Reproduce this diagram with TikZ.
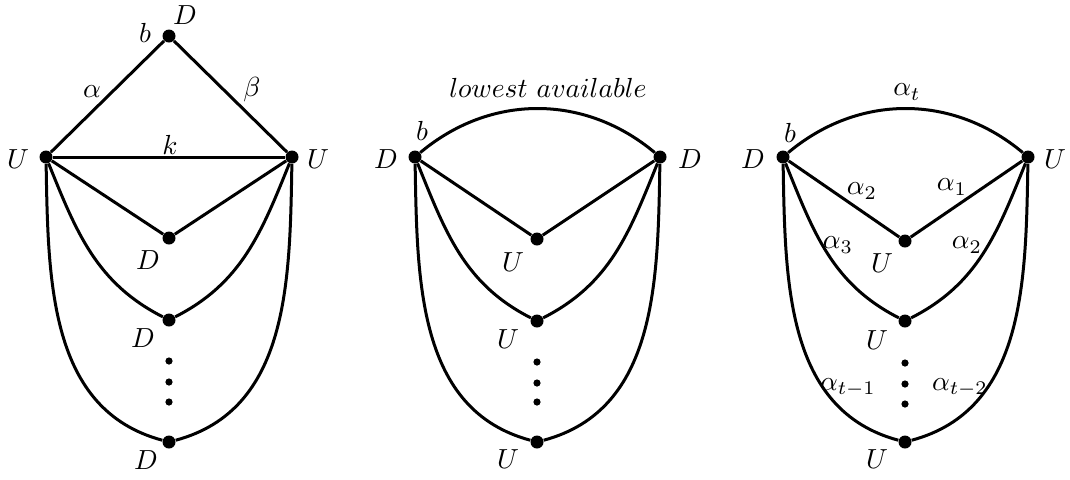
\documentclass[tikz,border=0pt]{standalone}
\begin{document}
\begin{tikzpicture}[x=0.5pt,y=-0.5pt,
  vtx/.style={circle,fill=black,inner sep=0pt,minimum size=6.5pt},
  sdot/.style={circle,fill=black,inner sep=0pt,minimum size=3.6pt},
  edge/.style={line width=1.5pt},
  lbl/.style={scale=1.38,inner sep=0pt}]
\useasboundingbox (0,0) rectangle (1070,479);
% ---------- left graph ----------
\node[vtx] (At) at (169,36) {};
\node[vtx] (Al) at (46,157) {};
\node[vtx] (Ar) at (292,157) {};
\node[vtx] (A1) at (169,238) {};
\node[vtx] (A2) at (169,320) {};
\node[vtx] (A3) at (169,442) {};
\node[sdot] (Ad1) at (169,361) {};
\node[sdot] (Ad2) at (169,382) {};
\node[sdot] (Ad3) at (169,402) {};
\draw[edge] (Al) -- (At) -- (Ar);
\draw[edge] (Al) -- (Ar);
\draw[edge] (Al) -- (A1) -- (Ar);
\draw[edge] (Al) to[out=-68,in=153] (A2) to[out=27,in=-112] (Ar);
\draw[edge] (Al) to[out=-89,in=165] (A3) to[out=15,in=-91] (Ar);
\node[lbl] (LAtD) at (185,15) {$D$};
\node[lbl] (LAtb) at (145,33) {$b$};
\node[lbl] (Lalpha) at (92,92) {$\alpha$};
\node[lbl] (Lbeta) at (252,90) {$\beta$};
\node[lbl] (Lk) at (170,145) {$k$};
\node[lbl] (LAl) at (18,159) {$U$};
\node[lbl] (LAr) at (318,159) {$U$};
\node[lbl] (LA1) at (148,260) {$D$};
\node[lbl] (LA2) at (143,338) {$D$};
\node[lbl] (LA3) at (146,460) {$D$};
% ---------- middle graph ----------
\node[vtx] (Bl) at (415,157) {};
\node[vtx] (Br) at (660,157) {};
\node[vtx] (B1) at (537,239) {};
\node[vtx] (B2) at (537,321) {};
\node[vtx] (B3) at (537,442) {};
\node[sdot] (Bd1) at (537,362) {};
\node[sdot] (Bd2) at (537,383) {};
\node[sdot] (Bd3) at (537,402) {};
\draw[edge] (Bl) to[out=40,in=140] (Br);
\draw[edge] (Bl) -- (B1) -- (Br);
\draw[edge] (Bl) to[out=-68,in=153] (B2) to[out=27,in=-112] (Br);
\draw[edge] (Bl) to[out=-89,in=165] (B3) to[out=15,in=-91] (Br);
\node[lbl] (LBtop) at (548,88) {$lowest\ available$};
\node[lbl] (LBb) at (422,131) {$b$};
\node[lbl] (LBl) at (386,159) {$D$};
\node[lbl] (LBr) at (690,159) {$D$};
\node[lbl] (LB1) at (513,262) {$U$};
\node[lbl] (LB2) at (508,339) {$U$};
\node[lbl] (LB3) at (508,459) {$U$};
% ---------- right graph ----------
\node[vtx] (Cl) at (783,157) {};
\node[vtx] (Cr) at (1028,157) {};
\node[vtx] (C1) at (905,241) {};
\node[vtx] (C2) at (905,321) {};
\node[vtx] (C3) at (905,442) {};
\node[sdot] (Cd1) at (905,363) {};
\node[sdot] (Cd2) at (905,384) {};
\node[sdot] (Cd3) at (905,404) {};
\draw[edge] (Cl) to[out=40,in=140] (Cr);
\draw[edge] (Cl) -- (C1) -- (Cr);
\draw[edge] (Cl) to[out=-68,in=153] (C2) to[out=27,in=-112] (Cr);
\draw[edge] (Cl) to[out=-89,in=165] (C3) to[out=15,in=-91] (Cr);
\node[lbl] (LCt) at (907,92) {$\alpha_t$};
\node[lbl] (LCb) at (790,133) {$b$};
\node[lbl] (LCl) at (753,159) {$D$};
\node[lbl] (LCr) at (1055,159) {$U$};
\node[lbl] (LCa2) at (862,191) {$\alpha_2$};
\node[lbl] (LCa1) at (952,187) {$\alpha_1$};
\node[lbl] (LCa3) at (838,245) {$\alpha_3$};
\node[lbl] (LCa2b) at (967,245) {$\alpha_2$};
\node[lbl] (LC1) at (882,263) {$U$};
\node[lbl] (LC2) at (877,340) {$U$};
\node[lbl] (LCam) at (848,388) {$\alpha_{t-1}$};
\node[lbl] (LCan) at (960,388) {$\alpha_{t-2}$};
\node[lbl] (LC3) at (877,459) {$U$};
\end{tikzpicture}
\end{document}
